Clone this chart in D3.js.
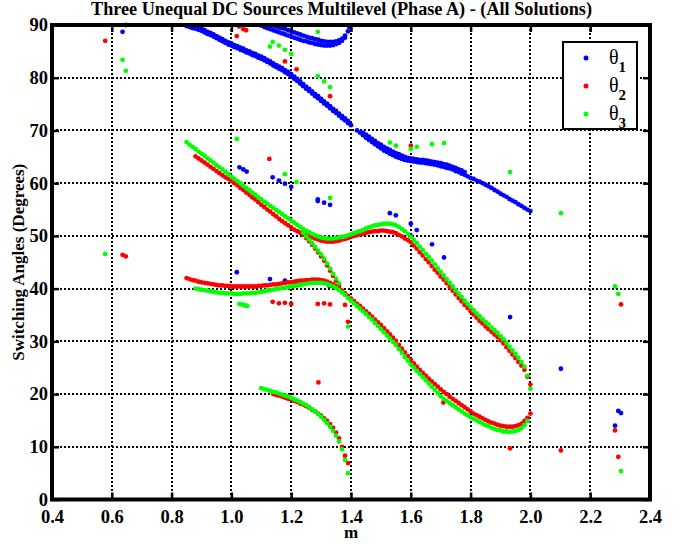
<!DOCTYPE html>
<html>
<head>
<meta charset="utf-8">
<script src="https://cdn.jsdelivr.net/npm/d3@7"></script>
<style>
  body { margin: 0; background: #fff; }
  svg { display: block; }
  text { font-family: "Liberation Serif", "Times New Roman", serif; }
</style>
</head>
<body>
<div id="chart"></div>
<script>
// sampling step of the modulation index m
var mStep = 0.01;

// theta1 (blue) branches: start m, then one angle per step (null = no solution)
var theta1MainStart = 0.85;
var theta1Main = [89.8, 89.6, 89.4, 89.3, 89.1, 88.9, 88.6, 88.3, 88.1, 87.8,
  87.5, 87.2, 86.9, 86.6, 86.3, 86.1, 85.8, 85.6, 85.3, 85.1,
  84.8, 84.6, 84.3, 84.1, 83.8, 83.6, 83.3, 83.0, 82.7, 82.3,
  82.0, 81.7, 81.4, 81.0, 80.7, 80.3, 79.8, 79.4, 78.9, 78.4,
  77.9, 77.5, 77.0, 76.5, 76.1, 75.6, 75.1, 74.7, 74.2, 73.7,
  73.3, 72.8, 72.3, 71.9, 71.4, 71.0, null, 70.0, 69.6, 69.1,
  68.6, 68.2, 67.8, 67.4, 67.0, 66.6, 66.2, 65.9, 65.6, 65.3,
  65.0, 64.8, 64.6, 64.4, 64.3, 64.2, 64.1, 64.0, 63.9, 63.9,
  63.8, 63.7, 63.6, 63.5, 63.4, 63.2, 63.1, 62.9, 62.8, 62.6,
  62.3, 62.1, 61.8, 61.6, 61.3, 61.0, 60.8, 60.5, 60.3, 60.0,
  59.7, 59.4, 59.1, 58.7, 58.4, 58.0, 57.7, 57.4, 57.0, 56.7,
  56.4, 56.0, 55.7, 55.3, 55.0, 54.7];
var theta1Main2Start = 0.88;
var theta1Main2 = [89.7, 89.5, 89.3, 89.0, 88.7, 88.5, 88.2, 87.9, 87.6, 87.3,
  87.0, 86.7, 86.5, 86.2, 86.0, 85.7, 85.5, 85.2, 85.0, 84.7,
  84.5, 84.2, 84.0, 83.7, 83.4, 83.1, 82.7, 82.4, 82.1, 81.8,
  81.4, 81.1, 80.7, 80.2, 79.8, 79.3, 78.8, 78.3, 77.9, 77.4,
  76.9, 76.5, 76.0, 75.5, 75.1, 74.6, 74.1, 73.7, 73.2, 72.7,
  72.3, 71.8];
var theta1BandStart = 1.44;
var theta1Band = [69.6, 69.2, 68.8, 68.4, 68.0, 67.6, 67.3, 66.9, 66.6, 66.3,
  66.0, 65.7, 65.5, 65.2, 65.0, 64.8, 64.7, 64.6, 64.5, 64.4,
  64.4, 64.3, 64.2, 64.1, 64.0, 63.9, 63.8, 63.6, 63.5, 63.3,
  63.1, 62.9, 62.6, 62.4, 62.1];
var theta1LoopOuterStart = 1.10;
var theta1LoopOuter = [89.9, 89.6, 89.4, 89.2, 89.0, 88.8, 88.6, 88.4, 88.2, 88.0,
  87.8, 87.6, 87.4, 87.2, 87.0, 86.9, 86.7, 86.6, 86.4, 86.3,
  86.2, 86.1, 86.1, 86.1, 86.2, 86.4, 86.6, 87.0, 87.6, 88.8];
var theta1LoopInnerStart = 1.14;
var theta1LoopInner = [89.9, 89.7, 89.5, 89.4, 89.2, 89.0, 88.8, 88.6, 88.4, 88.2,
  88.0, 87.8, 87.6, 87.5, 87.3, 87.2, 87.0, 86.9, 86.8, 86.8,
  86.8, 86.9, 87.1, 87.4, 88.0];
var theta1Scatter = [[0.636, 88.7], [0.647, 90.0], [1.394, 89.6],
  [1.027, 63.0], [1.040, 62.6], [1.051, 62.2],
  [1.138, 61.1], [1.159, 60.5], [1.179, 59.9], [1.200, 59.3],
  [1.289, 56.9], [1.289, 56.6], [1.310, 56.3], [1.330, 55.9],
  [1.018, 43.1], [1.129, 41.8], [1.179, 41.5], [1.218, 41.3], [1.328, 40.5],
  [1.530, 54.3], [1.550, 53.9], [1.600, 52.3], [1.620, 51.1], [1.600, 50.0],
  [1.671, 48.4], [1.711, 45.9], [1.932, 34.6], [2.102, 24.8],
  [2.294, 16.8], [2.303, 16.4], [2.283, 14.0]];

// theta2 (red) branches
var theta2UpperStart = 0.88;
var theta2Upper = [65.1, 64.7, 64.3, 63.9, 63.5, 63.1, 62.7, 62.3, 61.9, 61.5,
  61.1, 60.8, 60.4, 60.0, 59.6, 59.1, 58.7, 58.2, 57.8, 57.3,
  56.9, 56.4, 55.9, 55.5, 55.0, 54.6, 54.1, 53.7, 53.2, 52.8,
  52.4, 52.0, 51.6, 51.2, 50.9, 50.6, 50.3, 50.1, 49.9, 49.7,
  49.5, 49.3, 49.1, 49.0, 48.9, 48.9, 48.9, 49.0, 49.1, 49.3,
  49.4, 49.6, 49.8, 50.0, 50.1, 50.3, 50.4, 50.6, 50.7, 50.8,
  50.9, 50.9, 51.0, 51.0, 50.9, 50.8, 50.7, 50.5, 50.2, 49.9,
  49.5, 49.2, 48.8, 48.2, 47.6, 46.9, 46.3, 45.6, 45.0, 44.3,
  43.6, 43.0, 42.3, 41.7, 41.0, 40.3, 39.6, 38.9, 38.2, 37.6,
  36.9, 36.3, 35.7, 35.1, 34.5, 33.9, 33.4, 32.8, 32.3, 31.8,
  31.3, 30.8, 30.2, 29.6, 28.9, 28.2, 27.5, 26.8, 26.1, 25.4,
  24.6, 23.3, 21.8];
var theta2LowerStart = 0.85;
var theta2Lower = [42.0, 41.8, 41.6, 41.5, 41.3, 41.2, 41.1, 41.0, 40.9, 40.8,
  40.7, 40.6, 40.6, 40.5, 40.5, 40.4, 40.4, 40.4, 40.4, 40.4,
  40.4, 40.4, 40.4, 40.4, 40.5, 40.5, 40.6, 40.6, 40.7, 40.8,
  40.8, 40.9, 41.0, 41.1, 41.2, 41.2, 41.3, 41.4, 41.5, 41.5,
  41.6, 41.6, 41.7, 41.7, 41.7, 41.6, 41.5, 41.3, 41.1, 40.8,
  40.5, 40.1];
var theta2DropStart = 1.24;
var theta2Drop = [50.2, 49.6, 49.0, 48.3, 47.6, 46.9, 46.1, 45.3, 44.4, 43.4,
  42.4, 41.5, 40.6];
var theta2TailStart = 1.37;
var theta2Tail = [39.6, 39.1, 38.6, 38.1, 37.6, 37.1, 36.7, 36.2, 35.7, 35.2,
  34.7, 34.1, 33.6, 33.1, 32.5, 31.9, 31.3, 30.7, 30.1, 29.3,
  28.6, 27.9, 27.2, 26.5, 25.8, 25.2, 24.6, 24.0, 23.5, 22.9,
  22.4, 21.9, 21.4, 20.9, 20.4, 20.0, 19.5, 19.1, 18.7, 18.3,
  17.9, 17.5, 17.1, 16.7, 16.3, 16.0, 15.7, 15.4, 15.1, 14.8,
  14.6, 14.4, 14.2, 14.0, 13.9, 13.8, 13.8, 13.8, 13.9, 14.1,
  14.4, 14.9, 15.5, 16.3];
var theta2ArcStart = 1.14;
var theta2Arc = [20.0, 19.8, 19.7, 19.5, 19.3, 19.1, 19.0, 18.7, 18.5, 18.2,
  18.0, 17.7, 17.4, 17.0, 16.7, 16.3, 15.9, 15.4, 14.9, 14.3,
  13.6, 12.7, 11.6, 10.0, 8.3, 6.9];
var theta2Scatter = [[0.578, 87.0], [0.636, 46.4], [0.647, 46.1],
  [1.018, 87.9], [1.026, 89.7], [1.040, 89.2], [1.049, 89.0],
  [1.179, 83.1], [1.218, 81.6], [1.330, 76.5], [1.127, 64.6], [1.600, 67.1],
  [1.138, 37.5], [1.159, 37.2], [1.179, 37.3], [1.200, 37.1],
  [1.289, 37.1], [1.310, 37.2], [1.330, 37.0], [1.380, 36.9], [1.390, 33.7],
  [1.291, 22.2], [1.709, 18.4], [1.932, 9.7], [2.102, 9.3],
  [2.283, 13.1], [2.294, 8.1], [2.303, 37.0]];

// theta3 (green) branches
var theta3UpperStart = 0.85;
var theta3Upper = [67.8, 67.3, 66.9, 66.5, 66.0, 65.6, 65.2, 64.7, 64.3, 63.9,
  63.4, 63.0, 62.6, 62.1, 61.7, 61.2, 60.8, 60.4, 60.0, 59.5,
  59.1, 58.7, 58.2, 57.8, 57.3, 56.9, 56.5, 56.1, 55.7, 55.3,
  54.9, 54.5, 54.1, 53.7, 53.3, 52.9, 52.5, 52.1, 51.7, 51.3,
  51.0, 50.7, 50.4, 50.1, 49.9, 49.7, 49.6, 49.5, 49.5, 49.5,
  49.6, 49.7, 49.8, 49.9, 50.1, 50.3, 50.5, 50.7, 50.9, 51.1,
  51.4, 51.6, 51.8, 52.0, 52.1, 52.2, 52.3, 52.3, 52.3, 52.2,
  52.0, 51.7, 51.3, 50.9, 50.4, 49.8, 49.2, 48.6, 47.9, 47.3,
  46.6, 46.0, 45.3, 44.6, 43.9, 43.2, 42.5, 41.8, 41.1, 40.4,
  39.7, 39.0, 38.4, 37.7, 37.1, 36.5, 35.9, 35.3, 34.8, 34.2,
  33.7, 33.2, 32.6, 32.1, 31.6, 31.0, 30.4, 29.7, 29.0, 28.3,
  27.6, 26.9, 26.1, 25.2, 23.5, 21.0];
var theta3LowerStart = 0.88;
var theta3Lower = [40.0, 39.9, 39.8, 39.7, 39.6, 39.5, 39.4, 39.3, 39.2, 39.2,
  39.1, 39.1, 39.1, 39.0, 39.0, 39.0, 39.1, 39.1, 39.1, 39.2,
  39.2, 39.3, 39.4, 39.5, 39.6, 39.7, 39.8, 39.9, 40.0, 40.1,
  40.2, 40.3, 40.4, 40.5, 40.6, 40.7, 40.8, 40.9, 41.0, 41.1,
  41.1, 41.1, 41.1, 41.0, 40.9, 40.6, 40.4, 40.1, 39.7];
var theta3DropStart = 1.24;
var theta3Drop = [50.6, 49.9, 49.3, 48.6, 47.9, 47.2, 46.5, 45.7, 44.8, 43.8,
  42.8, 41.9, 41.0];
var theta3TailStart = 1.37;
var theta3Tail = [39.3, 38.8, 38.2, 37.7, 37.2, 36.7, 36.2, 35.7, 35.2, 34.6,
  34.1, 33.5, 32.9, 32.3, 31.7, 31.1, 30.5, 29.9, 29.3, 28.5,
  27.8, 27.0, 26.3, 25.6, 25.0, 24.4, 23.8, 23.2, 22.6, 22.0,
  21.4, 20.8, 20.2, 19.6, 19.1, 18.7, 18.3, 17.9, 17.5, 17.1,
  16.7, 16.3, 16.0, 15.6, 15.3, 15.0, 14.7, 14.4, 14.1, 13.9,
  13.6, 13.4, 13.2, 13.1, 12.9, 12.9, 12.8, 12.9, 13.0, 13.2,
  13.5, 14.1, 14.9];
var theta3ArcStart = 1.10;
var theta3Arc = [21.1, 20.9, 20.8, 20.6, 20.4, 20.3, 20.1, 19.9, 19.7, 19.5,
  19.3, 19.0, 18.8, 18.5, 18.2, 17.9, 17.5, 17.1, 16.7, 16.2,
  15.7, 15.1, 14.5, 13.8, 13.0, 12.1, 11.0, 9.5, 7.5, 5.0];
var theta3Scatter = [[0.636, 83.4], [0.647, 81.3], [0.578, 46.6], [1.018, 68.4],
  [1.129, 85.9], [1.138, 86.8], [1.159, 86.1], [1.179, 85.3], [1.200, 84.5],
  [1.289, 88.7], [1.289, 80.3], [1.310, 79.3], [1.330, 78.2],
  [1.179, 61.7], [1.218, 60.2], [1.330, 57.2],
  [1.027, 37.1], [1.034, 37.0], [1.040, 36.9], [1.047, 36.8], [1.053, 36.7],
  [1.530, 67.7], [1.550, 67.1], [1.600, 66.5], [1.620, 66.9], [1.671, 67.4], [1.711, 67.6],
  [1.932, 62.1], [2.102, 54.3], [2.283, 40.4], [2.294, 39.0], [2.303, 5.4], [1.390, 32.8]];

var xTicks = [0.4, 0.6, 0.8, 1, 1.2, 1.4, 1.6, 1.8, 2, 2.2, 2.4];
var yTicks = [0, 10, 20, 30, 40, 50, 60, 70, 80, 90];
var seriesNames = ["1", "2", "3"];   // subscripts of theta
var seriesColors = ["#0000ff", "#ff0000", "#00ff00"];

function branchPoints(start, values) {
  var pts = [];
  values.forEach(function(v, i) {
    if (v !== null) pts.push([start + i * mStep, v]);
  });
  return pts;
}

var series = [
  [].concat(branchPoints(theta1MainStart, theta1Main), branchPoints(theta1Main2Start, theta1Main2),
    branchPoints(theta1BandStart, theta1Band),
    branchPoints(theta1LoopOuterStart, theta1LoopOuter), branchPoints(theta1LoopInnerStart, theta1LoopInner),
    theta1Scatter),
  [].concat(branchPoints(theta2UpperStart, theta2Upper), branchPoints(theta2LowerStart, theta2Lower),
    branchPoints(theta2DropStart, theta2Drop), branchPoints(theta2TailStart, theta2Tail),
    branchPoints(theta2ArcStart, theta2Arc), theta2Scatter),
  [].concat(branchPoints(theta3UpperStart, theta3Upper), branchPoints(theta3LowerStart, theta3Lower),
    branchPoints(theta3DropStart, theta3Drop), branchPoints(theta3TailStart, theta3Tail),
    branchPoints(theta3ArcStart, theta3Arc), theta3Scatter)
];

var margin = {top: 25, right: 38, bottom: 44.5, left: 52},
    width = 688 - margin.left - margin.right,
    height = 544 - margin.top - margin.bottom;

var svg = d3.select("#chart").append("svg")
    .attr("width", 688)
    .attr("height", 544);

var g = svg.append("g")
    .attr("transform", "translate(" + margin.left + "," + margin.top + ")");

var x = d3.scaleLinear().domain([0.4, 2.4]).range([0, width]);
var y = d3.scaleLinear().domain([0, 90]).range([height, 0]);

// dotted grid, snapped to whole pixels so the dots stay black
var grid = g.append("g").attr("class", "grid");
grid.selectAll(".gx")
  .data(xTicks.slice(1, -1))
  .enter().append("line")
    .attr("x1", function(d) { return Math.round(x(d)); })
    .attr("x2", function(d) { return Math.round(x(d)); })
    .attr("y1", 0)
    .attr("y2", Math.round(height));
grid.selectAll(".gy")
  .data(yTicks.slice(1, -1))
  .enter().append("line")
    .attr("x1", 0)
    .attr("x2", width)
    .attr("y1", function(d) { return Math.round(y(d)); })
    .attr("y2", function(d) { return Math.round(y(d)); });
grid.selectAll("line")
    .attr("stroke", "#000")
    .attr("stroke-width", 2)
    .attr("stroke-dasharray", "2,2")
    .attr("shape-rendering", "crispEdges");

// data dots
series.forEach(function(pts, i) {
  g.append("g").selectAll("circle")
    .data(pts)
    .enter().append("circle")
      .attr("cx", function(d) { return x(d[0]); })
      .attr("cy", function(d) { return y(d[1]); })
      .attr("r", 2.4)
      .attr("fill", seriesColors[i]);
});

// axes with inward ticks
var tickLen = -7;
g.append("g")
    .attr("class", "axis")
    .attr("transform", "translate(0," + height + ")")
    .call(d3.axisBottom(x).tickValues(xTicks).tickSizeInner(tickLen).tickSizeOuter(0).tickPadding(10));
g.append("g")
    .attr("class", "axis")
    .call(d3.axisLeft(y).tickValues(yTicks).tickSizeInner(tickLen).tickSizeOuter(0).tickPadding(4));
g.append("g")
    .attr("class", "axis")
    .call(d3.axisTop(x).tickValues(xTicks).tickSizeInner(tickLen).tickSizeOuter(0).tickFormat(""));
g.append("g")
    .attr("class", "axis")
    .attr("transform", "translate(" + width + ",0)")
    .call(d3.axisRight(y).tickValues(yTicks).tickSizeInner(tickLen).tickSizeOuter(0).tickFormat(""));
g.selectAll(".axis .domain").remove();
g.selectAll(".axis .tick line")
    .attr("stroke", "#000")
    .attr("stroke-width", 2.5);
g.selectAll(".axis .tick text")
    .attr("font-family", '"Liberation Serif", "Times New Roman", serif')
    .attr("font-weight", "bold")
    .attr("font-size", 18.5)
    .attr("fill", "#000");

// frame
g.append("rect")
    .attr("width", width)
    .attr("height", height)
    .attr("fill", "none")
    .attr("stroke", "#000")
    .attr("stroke-width", 4);

// title and axis labels
svg.append("text")
    .attr("x", 91)
    .attr("y", 15)
    .attr("textLength", 501)
    .attr("lengthAdjust", "spacingAndGlyphs")
    .attr("font-size", 18.5)
    .attr("font-weight", "bold")
    .text("Three Unequal DC Sources Multilevel (Phase A) - (All Solutions)");

svg.append("text")
    .attr("x", margin.left + width / 2)
    .attr("y", 538)
    .attr("text-anchor", "middle")
    .attr("font-size", 17)
    .attr("font-weight", "bold")
    .text("m");

svg.append("text")
    .attr("transform", "translate(24," + (margin.top + height / 2) + ") rotate(-90)")
    .attr("text-anchor", "middle")
    .attr("font-size", 17)
    .attr("font-weight", "bold")
    .text("Switching Angles (Degrees)");

// legend
var legend = svg.append("g").attr("transform", "translate(563,42)");
legend.append("rect")
    .attr("width", 74)
    .attr("height", 87)
    .attr("fill", "#fff")
    .attr("stroke", "#000")
    .attr("stroke-width", 2);
seriesNames.forEach(function(name, i) {
  var row = legend.append("g").attr("transform", "translate(0," + (16 + i * 28) + ")");
  row.append("circle")
      .attr("cx", 23)
      .attr("cy", 0)
      .attr("r", 2.5)
      .attr("fill", seriesColors[i]);
  var t = row.append("text")
      .attr("x", 46)
      .attr("y", 5.5)
      .attr("font-size", 20);
  t.append("tspan").text("\u03b8");
  t.append("tspan")
      .attr("dy", 8)
      .attr("font-size", 15)
      .attr("font-weight", "bold")
      .text(name);
});
</script>
</body>
</html>
